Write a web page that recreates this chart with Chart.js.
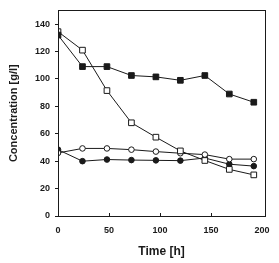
<!DOCTYPE html>
<html>
<head>
<meta charset="utf-8">
<script src="https://cdn.jsdelivr.net/npm/chart.js@4/dist/chart.umd.min.js"></script>
<style>
html,body{margin:0;padding:0;background:#fff;}
#wrap{width:279px;height:263px;position:relative;}
</style>
</head>
<body>
<div id="wrap"><canvas id="c" width="279" height="263"></canvas></div>
<script>
const times = [0, 24, 48, 72, 96, 120, 144, 168, 192];
const filledSquares = [132, 109, 109, 102.5, 101.5, 99, 102.5, 89, 83];
const openSquares = [134.5, 121, 91.5, 68, 57.5, 47.5, 40.5, 34, 30];
const openCircles = [46, 49.3, 49.3, 48.4, 47, 45.8, 44.8, 41.5, 41.5];
const filledCircles = [48.4, 40, 41.2, 40.8, 40.6, 40.4, 42.3, 37.8, 36.4];
const xTicks = [0, 50, 100, 150, 200];
const yTicks = [0, 20, 40, 60, 80, 100, 120, 140];
const xTitle = 'Time [h]';
const yTitle = 'Concentration [g/l]';

const INK = '#1a1a1a';
function pts(ys){ return times.map((t,i)=>({x:t,y:ys[i]})); }
function ds(ys, style, fill, r){
  return {data: pts(ys), borderColor: INK, borderWidth: 1, pointStyle: style,
    pointRadius: r, pointHoverRadius: r, pointBackgroundColor: fill,
    pointBorderColor: INK, pointBorderWidth: 1, showLine: true, fill: false, tension: 0};
}

const framePlugin = {
  id: 'frame',
  afterDraw(chart){
    const {ctx, chartArea:a} = chart;
    const xs = chart.scales.x;
    ctx.save();
    ctx.strokeStyle = INK;
    ctx.lineWidth = 1;
    ctx.beginPath();
    xTicks.forEach(v=>{
      if (v===0 || v===200) return;
      const px = Math.round(xs.getPixelForValue(v)) + 0.5;
      ctx.moveTo(px, a.bottom); ctx.lineTo(px, a.bottom - 3);
    });
    ctx.stroke();
    ctx.strokeRect(Math.round(a.left)+0.5, Math.round(a.top)+0.5, Math.round(a.right-a.left)-0, Math.round(a.bottom-a.top));
    ctx.restore();
  }
};

new Chart(document.getElementById('c'), {
  type: 'scatter',
  data: {
    datasets: [
      ds(filledSquares, 'rect', INK, 4),
      ds(openSquares, 'rect', '#fff', 4),
      ds(openCircles, 'circle', '#fff', 2.8),
      ds(filledCircles, 'circle', INK, 2.8)
    ]
  },
  plugins: [framePlugin],
  options: {
    responsive: false,
    animation: false,
    events: [],
    layout: {padding: {top: 3, right: 14, left: 0, bottom: 0}},
    plugins: {legend: {display: false}, tooltip: {enabled: false}},
    scales: {
      x: {
        type: 'linear', min: 0, max: 203,
        afterBuildTicks(s){ s.ticks = xTicks.map(v=>({value:v})); },
        afterFit(s){ s.height = 47; },
        grid: {display: false, drawTicks: false},
        border: {display: false},
        ticks: {color: INK, padding: 9, font: {family: 'Liberation Sans', size: 9, weight: 'bold'}, maxRotation: 0},
        title: {display: true, text: xTitle, color: INK, padding: {top: 0, bottom: 4},
          font: {family: 'Liberation Sans', size: 12, weight: 'bold'}}
      },
      y: {
        type: 'linear', min: 0, max: 150,
        afterBuildTicks(s){ s.ticks = yTicks.map(v=>({value:v})); },
        afterFit(s){ s.width = 58; },
        grid: {display: true, drawOnChartArea: false, drawTicks: true, tickLength: 3, color: INK, lineWidth: 1},
        border: {display: false},
        ticks: {color: INK, padding: 5, font: {family: 'Liberation Sans', size: 9, weight: 'bold'}},
        title: {display: true, text: yTitle, color: INK, padding: {top: 7, bottom: 0},
          font: {family: 'Liberation Sans', size: 11, weight: 'bold'}}
      }
    }
  }
});
</script>
</body>
</html>
